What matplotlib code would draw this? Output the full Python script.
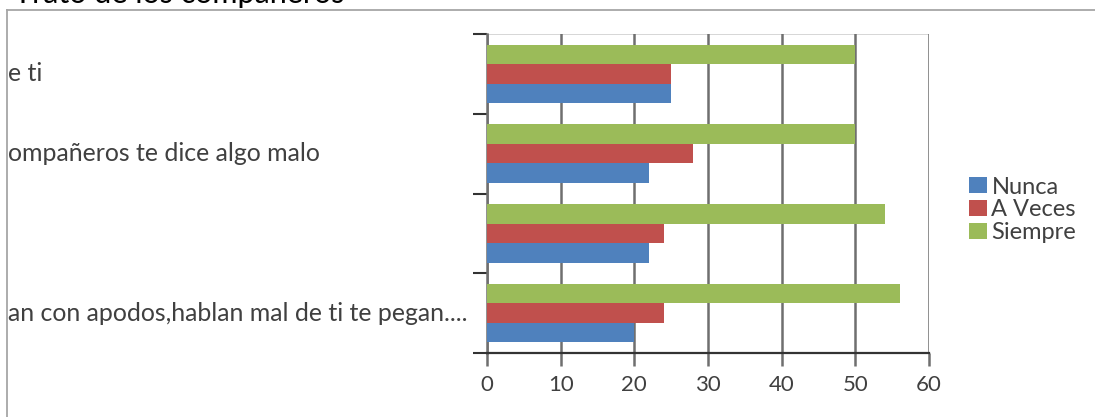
import matplotlib
matplotlib.use("Agg")

import matplotlib.pyplot as plt
import matplotlib.transforms as mtransforms
from matplotlib.lines import Line2D

plt.rcParams["font.family"] = ["Lato", "DejaVu Sans"]

# data (bottom -> top, as drawn); labels are the part visible in the clipped chart
categories = [
    "an con apodos,hablan mal de ti te pegan....",
    "",
    "ompañeros te dice algo malo",
    "e ti",
]
nunca = [20, 22, 22, 25]
a_veces = [24, 24, 28, 25]
siempre = [56, 54, 50, 50]
series_names = ["Nunca", "A Veces", "Siempre"]
x_ticks = [0, 10, 20, 30, 40, 50, 60]
title = "Trato de los compañeros"

W, H = 1095, 417
fig = plt.figure(figsize=(W / 100, H / 100), dpi=100)

# plot area in pixels: left 487, right 929, top 34, bottom 353
ax = fig.add_axes([487 / W, 1 - 353 / H, (929 - 487) / W, (353 - 34) / H])

h = 0.245
ypos = list(range(len(categories)))
colors = ["#4F81BD", "#C0504D", "#9BBB59"]
bars = []
for off, vals, c, name in zip([-h, 0, h], [nunca, a_veces, siempre], colors, series_names):
    b = ax.barh([y + off for y in ypos], vals, height=h, color=c, label=name, zorder=3)
    bars.append(b)

ax.set_xlim(0, 60)
ax.set_ylim(-0.5, len(categories) - 0.5)

# vertical gridlines
ax.set_xticks(x_ticks)
ax.set_xticklabels([str(v) for v in x_ticks], fontsize=16, color="#404040")
ax.grid(axis="x", color="#6F6F6F", linewidth=1.8, zorder=1)
ax.set_axisbelow(True)
ax.tick_params(axis="x", direction="out", length=9, width=1.8, color="#6F6F6F", pad=7)

# category boundaries as ticks
ax.set_yticks([y - 0.5 for y in ypos] + [len(categories) - 0.5])
ax.set_yticklabels([])
ax.tick_params(axis="y", which="major", direction="out", length=10, width=1.5, color="#333333")

# category labels: left part is cut off by the chart frame
trans = mtransforms.blended_transform_factory(fig.transFigure, ax.transData)
for y, lab in zip(ypos, categories):
    fig.text(7.5 / W, y, lab, transform=trans, fontsize=17.9, color="#404040",
             ha="left", va="center")

for s in ["top", "right"]:
    ax.spines[s].set_visible(False)
ax.spines["left"].set_color("#6F6F6F")
ax.spines["left"].set_linewidth(1.8)
ax.spines["bottom"].set_color("#333333")
ax.spines["bottom"].set_linewidth(1.6)
ax.axhline(len(categories) - 0.5, color="#D0D0D0", linewidth=1.2, zorder=0)

fig.legend(
    handles=bars,
    labels=series_names,
    loc="center left",
    bbox_to_anchor=(969 / W, 1 - 210 / H),
    frameon=False,
    fontsize=17,
    handlelength=0.75,
    handleheight=0.65,
    handletextpad=0.2,
    labelspacing=0.08,
    borderpad=0,
    borderaxespad=0,
    labelcolor="#404040",
)

# chart frame (only top and left edges are visible in the crop)
fig.add_artist(Line2D([6.5 / W, 1], [1 - 9.5 / H, 1 - 9.5 / H], color="#A6A6A6", linewidth=1.3))
fig.add_artist(Line2D([6.5 / W, 6.5 / W], [0, 1 - 9.5 / H], color="#A6A6A6", linewidth=1.3))

# title, mostly cut off at the top edge
fig.text(14 / W, 1 - 3.5 / H, title, fontsize=22, ha="left", va="baseline", color="#000000")

fig.savefig("out.png", dpi=100)
plt.close(fig)
